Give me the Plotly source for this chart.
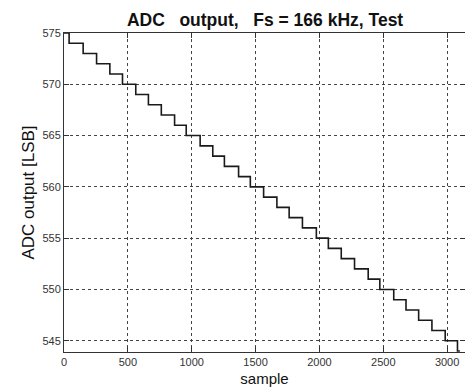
import plotly.graph_objects as go

# ADC output levels [LSB] and the sample index where each level is first reached
levels = [575, 574, 573, 572, 571, 570, 569, 568, 567, 566, 565, 564, 563, 562, 561, 560,
          559, 558, 557, 556, 555, 554, 553, 552, 551, 550, 549, 548, 547, 546, 545, 544]
step_samples = [0, 40, 150, 255, 359, 458, 562, 661, 762, 866, 957, 1066, 1165, 1256, 1367, 1459,
                1563, 1667, 1763, 1867, 1976, 2070, 2171, 2275, 2382, 2473, 2582, 2678, 2777, 2881, 2985, 3081]
last_sample = 3100

x_ticks = [0, 500, 1000, 1500, 2000, 2500, 3000]
y_ticks = [545, 550, 555, 560, 565, 570, 575]

xs = step_samples + [last_sample]
ys = levels + [levels[-1]]

fig = go.Figure()
fig.add_trace(go.Scatter(x=xs, y=ys, mode="lines", line=dict(shape="hv", color="#1a1a1a", width=1.6),
                         showlegend=False, hoverinfo="skip"))

tickfont = dict(family="Liberation Sans Narrow, Arial Narrow, Liberation Sans, Arial", size=11, color="#333333")
grid = dict(showgrid=True, gridcolor="#444444", gridwidth=1, griddash="3px,3px",
            showline=True, linecolor="#333333", linewidth=1, mirror="ticks",
            ticks="inside", ticklen=5, tickcolor="#333333", zeroline=False, tickfont=tickfont)

fig.update_layout(
    width=465, height=388,
    margin=dict(l=64, r=0, t=33, b=36),
    paper_bgcolor="white", plot_bgcolor="white",
    title=dict(text="<b>ADC   output,   Fs = 166 kHz, Test</b>", x=0.57, xanchor="center",
               y=0.948, yanchor="middle",
               font=dict(family="Liberation Sans, Arial", size=17.5, color="#111111")),
    xaxis=dict(range=[0, 3140], tickvals=x_ticks, title=dict(text="sample", standoff=6,
               font=dict(family="Liberation Sans, Arial", size=15, color="#111111")), **grid),
    yaxis=dict(range=[543.9, 575], tickvals=y_ticks, title=dict(text="ADC output [LSB]", standoff=3,
               font=dict(family="Liberation Sans, Arial", size=17, color="#111111")), **grid),
)

fig.write_html("out.html", config={"displayModeBar": False},
               post_script="document.body.style.margin='0';document.body.style.overflow='hidden';")
